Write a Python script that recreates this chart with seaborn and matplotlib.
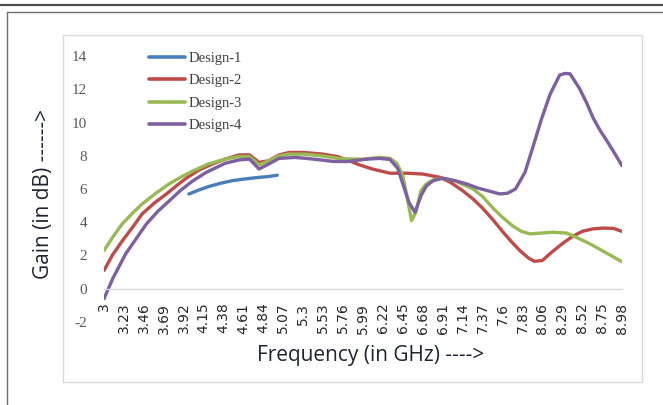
import pandas as pd
import seaborn as sns
import matplotlib.pyplot as plt
from matplotlib.patches import Rectangle
from matplotlib.lines import Line2D

# frequency tick labels (GHz)
tick_freqs = [3, 3.23, 3.46, 3.69, 3.92, 4.15, 4.38, 4.61, 4.84, 5.07, 5.3, 5.53,
              5.76, 5.99, 6.22, 6.45, 6.68, 6.91, 7.14, 7.37, 7.6, 7.83, 8.06,
              8.29, 8.52, 8.75, 8.98]

# Design-1
f1 = [3.98, 4.1, 4.21, 4.35, 4.48, 4.62, 4.79, 4.9, 5.0]
g1 = [5.7, 5.95, 6.15, 6.35, 6.5, 6.6, 6.7, 6.75, 6.83]

# Design-2
f2 = [3.0, 3.1, 3.21, 3.33, 3.44, 3.58, 3.72, 3.85, 3.95, 4.1, 4.25, 4.4, 4.56,
      4.68, 4.79, 4.9, 5.02, 5.14, 5.3, 5.52, 5.7, 5.83, 5.95, 6.1, 6.3, 6.5,
      6.68, 6.88, 7.0, 7.14, 7.26, 7.37, 7.49, 7.6, 7.7, 7.8, 7.9, 7.97, 8.06,
      8.18, 8.3, 8.41, 8.52, 8.64, 8.76, 8.88, 8.98]
g2 = [1.1, 2.05, 2.87, 3.7, 4.5, 5.15, 5.7, 6.25, 6.65, 7.15, 7.5, 7.8, 8.05,
      8.05, 7.6, 7.7, 8.05, 8.2, 8.2, 8.1, 7.95, 7.7, 7.45, 7.2, 6.95, 6.95,
      6.9, 6.7, 6.4, 5.9, 5.4, 4.85, 4.15, 3.45, 2.85, 2.3, 1.85, 1.65, 1.7,
      2.25, 2.75, 3.15, 3.45, 3.6, 3.65, 3.63, 3.45]

# Design-3
f3 = [3.0, 3.1, 3.21, 3.33, 3.44, 3.6, 3.75, 3.9, 4.02, 4.2, 4.4, 4.56, 4.68,
      4.79, 4.9, 5.02, 5.14, 5.3, 5.5, 5.7, 5.83, 6.0, 6.18, 6.3, 6.38, 6.45,
      6.5, 6.55, 6.6, 6.66, 6.72, 6.8, 6.91, 7.05, 7.26, 7.37, 7.49, 7.6, 7.72,
      7.82, 7.92, 8.05, 8.18, 8.34, 8.45, 8.61, 8.8, 8.98]
g3 = [2.3, 3.1, 3.9, 4.55, 5.1, 5.75, 6.3, 6.75, 7.07, 7.5, 7.8, 7.95, 7.95,
      7.45, 7.7, 8.0, 8.1, 8.1, 8.0, 7.85, 7.8, 7.8, 7.9, 7.85, 7.55, 6.8, 5.5,
      4.1, 4.6, 5.9, 6.3, 6.55, 6.65, 6.5, 6.0, 5.55, 4.85, 4.3, 3.77, 3.45,
      3.3, 3.35, 3.4, 3.35, 3.1, 2.7, 2.15, 1.62]

# Design-4
f4 = [3.0, 3.1, 3.25, 3.37, 3.49, 3.62, 3.75, 3.88, 4.02, 4.18, 4.4, 4.56,
      4.68, 4.79, 4.9, 5.02, 5.2, 5.34, 5.5, 5.64, 5.8, 5.91, 6.05, 6.18, 6.3,
      6.39, 6.45, 6.52, 6.59, 6.66, 6.72, 6.8, 6.91, 7.05, 7.19, 7.32, 7.45,
      7.57, 7.66, 7.75, 7.86, 7.95, 8.05, 8.15, 8.26, 8.32, 8.38, 8.49, 8.57,
      8.65, 8.73, 8.81, 8.9, 8.98]
g4 = [-0.6, 0.6, 2.1, 3.0, 3.9, 4.65, 5.27, 5.9, 6.47, 7.0, 7.55, 7.75, 7.8,
      7.2, 7.5, 7.84, 7.9, 7.84, 7.75, 7.66, 7.65, 7.72, 7.8, 7.84, 7.78, 7.25,
      6.3, 5.2, 4.6, 5.6, 6.17, 6.5, 6.65, 6.5, 6.3, 6.05, 5.87, 5.7, 5.75,
      6.0, 7.0, 8.5, 10.2, 11.7, 12.85, 12.95, 12.93, 12.04, 11.2, 10.24, 9.5,
      8.86, 8.1, 7.4]

designs = ['Design-1', 'Design-2', 'Design-3', 'Design-4']
colors = ['#4A7EBB', '#BE4B48', '#98B954', '#7D60A0']

frames = []
for name, f, g in zip(designs, [f1, f2, f3, f4], [g1, g2, g3, g4]):
    frames.append(pd.DataFrame({'freq': f, 'gain': g, 'design': name}))
df = pd.concat(frames, ignore_index=True)

sns.set_style('white')
fig = plt.figure(figsize=(6.63, 4.05), dpi=100)
W, H = 663, 405

def fx(px):
    return px / W

def fy(py):
    return 1 - py / H

# page frame
fig.add_artist(Line2D([0, 1], [fy(5), fy(5)], color='#505050', lw=1.6))
fig.add_artist(Line2D([fx(7), 1], [fy(12), fy(12)], color='#707070', lw=1.0))
fig.add_artist(Line2D([fx(7), fx(7)], [fy(12), 0], color='#707070', lw=1.0))
# chart area box
fig.add_artist(Rectangle((fx(63), fy(382)), fx(642) - fx(63), fy(35) - fy(382),
                         fill=False, edgecolor='#d9d9d9', lw=1.0))

ax = fig.add_axes([fx(104), fy(322), fx(622) - fx(104), fy(56) - fy(322)])
sns.lineplot(data=df, x='freq', y='gain', hue='design', palette=colors,
             estimator=None, linewidth=2.4, ax=ax, legend=False)

ax.set_xlim(3, 8.98)
ax.set_ylim(-2, 14)
ax.set_yticks(range(-2, 15, 2))
ax.set_xticks(tick_freqs)
ax.set_xticklabels([f'{t:g}' for t in tick_freqs],
                   fontsize=10, color='#595959', family='Liberation Sans')
ax.set_yticklabels([str(v) for v in range(-2, 15, 2)], fontsize=11,
                   color='#595959', family='Liberation Serif')
ax.tick_params(axis='both', length=0)
ax.tick_params(axis='y', pad=12)
ax.tick_params(axis='x', pad=10, labelrotation=90)

for s in ['top', 'right', 'left']:
    ax.spines[s].set_visible(False)
ax.spines['bottom'].set_position(('data', 0))
ax.spines['bottom'].set_color('#d9d9d9')
ax.spines['bottom'].set_linewidth(1.0)
ax.set_xlabel('')
ax.set_ylabel('')

fig.text(fx(371), fy(355), 'Frequency (in GHz) ---->', ha='center', va='center',
         fontsize=15, color='#1f2430', family='Open Sans')
fig.text(fx(43), fy(194), 'Gain (in dB) ------>', ha='center', va='center',
         rotation=90, fontsize=15, color='#1f2430', family='Open Sans')

handles = [Line2D([], [], color=c, lw=2.6) for c in colors]
fig.legend(handles, designs, loc='upper left',
           bbox_to_anchor=(fx(149), fy(52)), frameon=False,
           handlelength=2.5, handletextpad=0.2, labelspacing=0.62,
           borderaxespad=0, borderpad=0,
           prop={'family': 'Liberation Serif', 'size': 10.5}, labelcolor='#404040')

fig.savefig('out.png', dpi=100)
